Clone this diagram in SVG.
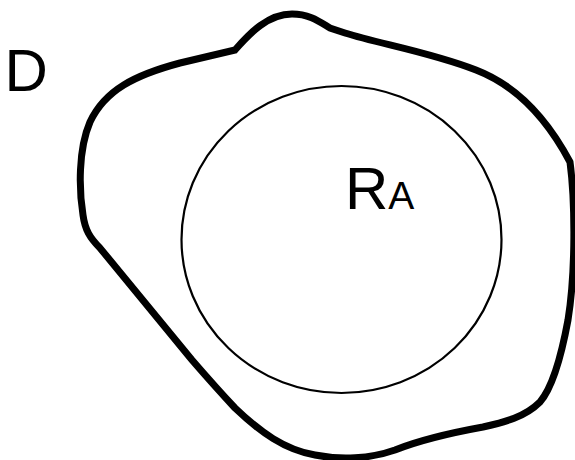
<svg xmlns="http://www.w3.org/2000/svg" width="575" height="460" viewBox="0 0 575 460">
<style>
.lbl{font-family:"Liberation Sans",Arial,sans-serif;fill:#000}
.region{fill:none;stroke:#000;stroke-width:7;stroke-linejoin:miter}
.set{fill:none;stroke:#000;stroke-width:2.2}
</style>
<rect width="575" height="460" fill="#fff"/>
<g id="region-D">
<path class="region" d="M235,50 C250,33 268,14 292,14 C310,14 320,22 330,28 L345,33 C380,44 430,52 476,70 C515,85 545,115 570,162 C575,200 576,270 568,320 C561,358 552,388 540,402 C525,417 505,422 483,427 C450,433 420,440 395,450 C370,459 340,460 315,455 C285,450 260,432 235,408 C220,392 205,375 192,360 L100,248 C90,238 85,230 83,215 C79,190 78,150 90,122 C105,90 135,75 180,63 Z"/>
<text class="lbl" x="4.5" y="91" font-size="60">D</text>
</g>
<g id="set-RA">
<ellipse class="set" cx="341.5" cy="239.5" rx="160" ry="153.5"/>
<text class="lbl" x="345" y="209" font-size="60">R<tspan font-size="39">A</tspan></text>
</g>
</svg>
